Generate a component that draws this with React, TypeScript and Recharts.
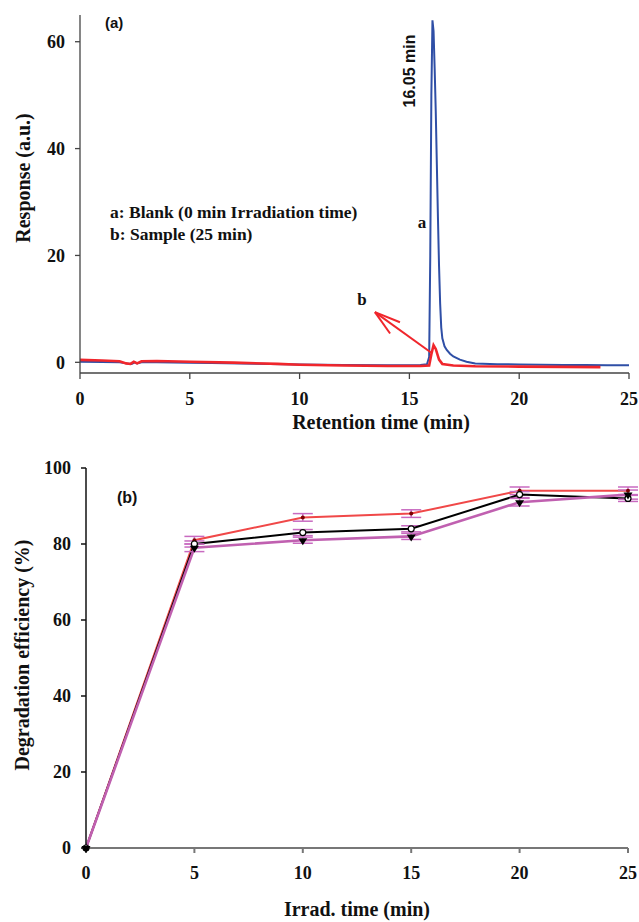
import { LineChart, Line, XAxis, YAxis, ErrorBar, ReferenceLine } from 'recharts';

// (a) chromatogram traces
const blankTimes = [0, 1, 1.8, 2.1, 2.35, 2.5, 2.6, 2.8, 3.5, 5, 6, 8, 10, 12, 14, 15, 15.5, 15.8, 15.9, 15.95, 16.0, 16.05, 16.1, 16.15, 16.2, 16.25, 16.3, 16.35, 16.4, 16.45, 16.5, 16.6, 16.7, 16.85, 17.0, 17.3, 17.6, 18, 19, 20, 21, 22, 23, 24, 25];
const blankResponse = [0.1, 0.05, 0.0, -0.2, -0.3, 0.0, -0.2, 0.0, 0.0, -0.1, -0.15, -0.25, -0.4, -0.5, -0.55, -0.55, -0.5, -0.35, 1, 20, 50, 64, 62, 55, 47, 37, 27, 18, 11, 6.5, 4.5, 3.0, 2.3, 1.6, 1.1, 0.5, 0.1, -0.2, -0.35, -0.4, -0.45, -0.5, -0.5, -0.55, -0.55];

const sampleTimes = [0, 1, 1.8, 2.1, 2.3, 2.45, 2.6, 2.8, 3.5, 5, 7, 9, 10, 12, 14, 15.5, 15.9, 16.0, 16.1, 16.2, 16.35, 16.5, 17, 18, 20, 22, 23.7];
const sampleResponse = [0.45, 0.35, 0.2, -0.2, -0.3, 0.1, -0.2, 0.2, 0.25, 0.1, -0.05, -0.3, -0.45, -0.6, -0.7, -0.7, -0.6, 1.5, 3.2, 2.5, 0.5, -0.3, -0.6, -0.75, -0.8, -0.85, -0.9];

// (b) degradation efficiency
const irradTimes = [0, 5, 10, 15, 20, 25];
const effRed = [0, 81, 87, 88, 94, 94];
const effBlack = [0, 80, 83, 84, 93, 92];
const effMagenta = [0, 79, 81, 82, 91, 93];
const errRed = [0, 1, 1, 1, 1, 1];
const errBlack = [0, 0.8, 0.8, 0.8, 0.8, 0.8];
const errMagenta = [0, 1, 0.8, 0.8, 1, 1.2];

const xTicks = [0, 5, 10, 15, 20, 25];
const topYTicks = [0, 20, 40, 60];
const bottomYTicks = [0, 20, 40, 60, 80, 100];

const blankData = blankTimes.map((t, i) => ({ t, v: blankResponse[i] }));
const sampleData = sampleTimes.map((t, i) => ({ t, v: sampleResponse[i] }));
const effData = irradTimes.map((t, i) => ({
  t,
  red: effRed[i],
  black: effBlack[i],
  magenta: effMagenta[i],
  redErr: errRed[i],
  blackErr: errBlack[i],
  magentaErr: errMagenta[i],
}));

const serif = '"Liberation Serif", "Times New Roman", serif';
const sans = '"Liberation Sans", Arial, sans-serif';
const tickFont = { fontFamily: serif, fontWeight: 700, fontSize: 18, fill: '#111' };

const RedDot = (props: any) => {
  const { cx, cy } = props;
  if (cx == null || cy == null) return null;
  return <circle cx={cx} cy={cy} r={2} fill="#7a0000" />;
};

const OpenDot = (props: any) => {
  const { cx, cy } = props;
  if (cx == null || cy == null) return null;
  return <circle cx={cx} cy={cy} r={3} fill="#fff" stroke="#000" strokeWidth={1.2} />;
};

const TriDot = (props: any) => {
  const { cx, cy } = props;
  if (cx == null || cy == null) return null;
  return <path d={`M${cx - 4.5},${cy - 2} L${cx + 4.5},${cy - 2} L${cx},${cy + 5} Z`} fill="#000" />;
};

export default function App() {
  return (
    <div style={{ position: 'absolute', left: 0, top: 0, width: 639, height: 922, background: '#fff' }}>
      <LineChart width={639} height={440} margin={{ top: 15, right: 10, left: 0, bottom: 0 }}>
        <XAxis
          type="number"
          dataKey="t"
          domain={[0, 25]}
          ticks={xTicks}
          height={67}
          tickSize={6}
          tickMargin={13}
          tick={tickFont}
          stroke="#444"
          strokeWidth={1.3}
          allowDataOverflow
        />
        <YAxis
          type="number"
          domain={[-2, 65]}
          ticks={topYTicks}
          width={80}
          tickSize={5}
          tickMargin={10}
          tick={tickFont}
          stroke="#444"
          strokeWidth={1.3}
          allowDataOverflow
        />
        <Line
          data={blankData}
          dataKey="v"
          type="linear"
          stroke="#2f4fa6"
          strokeWidth={2}
          dot={false}
          isAnimationActive={false}
        />
        <Line
          data={sampleData}
          dataKey="v"
          type="linear"
          stroke="#f0262c"
          strokeWidth={2.6}
          dot={false}
          isAnimationActive={false}
        />
        <ReferenceLine segment={[{ x: 16.03, y: 1.7 }, { x: 13.43, y: 9.4 }]} stroke="#f0262c" strokeWidth={2} ifOverflow="visible" />
        <ReferenceLine segment={[{ x: 13.43, y: 9.4 }, { x: 14.57, y: 7.5 }]} stroke="#f0262c" strokeWidth={2} ifOverflow="visible" />
        <ReferenceLine segment={[{ x: 13.43, y: 9.4 }, { x: 14.12, y: 5.4 }]} stroke="#f0262c" strokeWidth={2} ifOverflow="visible" />
      </LineChart>

      <LineChart width={639} height={482} data={effData} margin={{ top: 28, right: 11, left: 0, bottom: 0 }}>
        <XAxis
          type="number"
          dataKey="t"
          domain={[0, 25]}
          ticks={xTicks}
          height={74}
          tickSize={5}
          tickMargin={13}
          tick={tickFont}
          stroke="#777"
          strokeWidth={2}
        />
        <YAxis
          type="number"
          domain={[0, 100]}
          ticks={bottomYTicks}
          width={86}
          tickSize={5}
          tickMargin={10}
          tick={tickFont}
          stroke="#111"
          strokeWidth={1.5}
        />
        <Line dataKey="red" type="linear" stroke="#f04848" strokeWidth={2} dot={<RedDot />} isAnimationActive={false}>
          <ErrorBar dataKey="redErr" direction="y" width={10} stroke="#c86ac0" strokeWidth={1.5} />
        </Line>
        <Line dataKey="black" type="linear" stroke="#000" strokeWidth={2} dot={<OpenDot />} isAnimationActive={false}>
          <ErrorBar dataKey="blackErr" direction="y" width={10} stroke="#c86ac0" strokeWidth={1.5} />
        </Line>
        <Line dataKey="magenta" type="linear" stroke="#c060b0" strokeWidth={2.6} dot={<TriDot />} isAnimationActive={false}>
          <ErrorBar dataKey="magentaErr" direction="y" width={10} stroke="#c86ac0" strokeWidth={1.5} />
        </Line>
      </LineChart>

      <svg width={639} height={922} style={{ position: 'absolute', left: 0, top: 0, pointerEvents: 'none' }}>
        <text x={105} y={28} fontFamily={sans} fontWeight={700} fontSize={15} fill="#111">(a)</text>
        <text x={110} y={218} fontFamily={serif} fontWeight={700} fontSize={17.5} fill="#111">a: Blank (0 min Irradiation time)</text>
        <text x={110} y={240} fontFamily={serif} fontWeight={700} fontSize={17.5} fill="#111">b: Sample (25 min)</text>
        <text x={0} y={0} transform="translate(415 71) rotate(-90)" textAnchor="middle" fontFamily={sans} fontWeight={700} fontSize={16} fill="#111">16.05 min</text>
        <text x={422} y={228} textAnchor="middle" fontFamily={serif} fontWeight={700} fontSize={17} fill="#111">a</text>
        <text x={362} y={305} textAnchor="middle" fontFamily={serif} fontWeight={700} fontSize={17} fill="#111">b</text>
        <text x={0} y={0} transform="translate(30 178) rotate(-90)" textAnchor="middle" fontFamily={serif} fontWeight={700} fontSize={20} fill="#111">Response (a.u.)</text>
        <text x={381} y={429} textAnchor="middle" fontFamily={serif} fontWeight={700} fontSize={20} fill="#111">Retention time (min)</text>

        <text x={117} y={503} fontFamily={sans} fontWeight={700} fontSize={16} fill="#111">(b)</text>
        <text x={0} y={0} transform="translate(29 655) rotate(-90)" textAnchor="middle" fontFamily={serif} fontWeight={700} fontSize={20} fill="#111">Degradation efficiency (%)</text>
        <text x={357} y={916} textAnchor="middle" fontFamily={serif} fontWeight={700} fontSize={20} fill="#111">Irrad. time (min)</text>
      </svg>
    </div>
  );
}
